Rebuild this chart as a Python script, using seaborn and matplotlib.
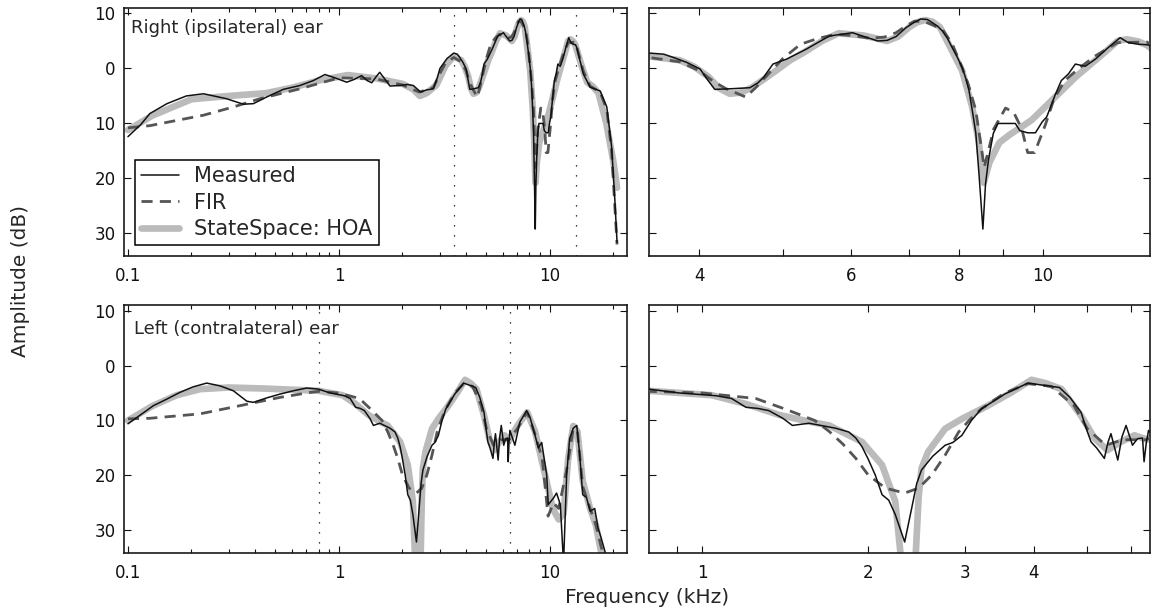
import matplotlib
matplotlib.use("Agg")
import matplotlib.pyplot as plt
import seaborn as sns
from matplotlib.ticker import FixedLocator, FixedFormatter, NullFormatter, LogLocator

sns.set_style("ticks")
plt.rcParams['font.family'] = ['DejaVu Sans']

# ---- right (ipsilateral) ear, frequency in kHz, amplitude in dB
right_meas_f = [0.10, 0.115, 0.127, 0.153, 0.189, 0.228, 0.293, 0.352, 0.393, 0.454, 0.545, 0.653,
                0.756, 0.858, 0.957, 1.088, 1.18, 1.28, 1.36, 1.43, 1.50, 1.56, 1.64, 1.745,
                1.945, 2.10, 2.25, 2.44, 2.60, 2.80, 2.92, 3.01, 3.25, 3.50, 3.64, 3.75, 3.87,
                4.01, 4.08, 4.17, 4.34, 4.58, 4.68, 4.75, 4.87, 5.05, 5.32, 5.50, 5.66, 6.02,
                6.18, 6.44, 6.60, 6.76, 6.94, 7.08, 7.22, 7.35, 7.45, 7.55, 7.65, 7.75, 7.85,
                7.95, 8.06, 8.14, 8.21, 8.29, 8.36, 8.43, 8.52, 8.58, 8.65, 8.76, 8.87, 9.29,
                9.40, 9.60, 9.80, 9.98, 10.1, 10.33, 10.5, 10.7, 10.9, 11.19, 11.5, 11.9,
                12.28, 12.55, 12.9, 13.23, 13.4, 14.4, 15.5, 17.3, 18.6, 19.6, 20.3, 20.8]
right_meas_db = [-12.4, -10.2, -8.2, -6.4, -5.0, -4.6, -5.5, -6.5, -6.4, -5.2, -3.8, -3.1,
                 -2.2, -1.1, -1.7, -2.5, -2.0, -1.3, -2.2, -2.6, -1.5, -0.7, -1.8, -3.2,
                 -3.1, -2.9, -3.1, -4.3, -3.9, -3.7, -1.8, 0.0, 1.8, 2.8, 2.6, 1.9, 1.1,
                 -0.1, -1.8, -3.8, -3.7, -3.5, -2.6, -1.6, 0.8, 1.7, 3.5, 4.8, 5.9, 6.5,
                 5.9, 5.0, 5.1, 5.8, 7.4, 8.3, 9.0, 8.9, 8.3, 7.7, 6.8, 5.5, 3.8,
                 2.2, 0.2, -1.8, -4.0, -8.0, -11.7, -19.0, -29.2, -21.0, -16.5, -11.8, -10.0, -10.0,
                 -11.3, -11.7, -11.7, -9.7, -8.8, -4.8, -2.2, -1.0, 0.8, 0.4, 1.7, 3.8,
                 5.6, 4.7, 4.4, 4.3, 3.8, -1.0, -3.4, -4.1, -7.0, -14.2, -23.8, -31.6]

right_fir_f = [0.10, 0.127, 0.228, 0.316, 0.422, 0.653, 1.0, 1.5, 2.0, 2.4, 2.8, 3.0, 3.2, 3.5,
               3.8, 4.0, 4.15, 4.30, 4.53, 4.65, 4.83, 5.0, 5.24, 5.5, 5.76, 6.0, 6.3, 6.55,
               6.76, 6.95, 7.1, 7.3, 7.65, 7.85, 8.06, 8.2, 8.36, 8.55, 8.77, 9.05, 9.25, 9.45,
               9.6, 9.78, 10.06, 10.3, 10.6, 11.0, 11.5, 12.2, 13.2, 14.4, 15.5, 17.3, 18.6,
               19.6, 20.3, 20.8]
right_fir_db = [-10.8, -10.4, -8.5, -7.0, -5.5, -3.7, -1.7, -1.9, -3.0, -4.3, -3.5, -1.0, 1.0, 2.0,
                1.2, -0.4, -2.3, -3.7, -5.2, -3.5, -0.7, 1.8, 4.4, 5.5, 6.2, 6.0, 5.5, 5.7,
                6.5, 7.8, 8.6, 8.5, 7.1, 4.5, 0.2, -3.0, -7.6, -18.0, -11.0, -7.2, -8.0, -11.0,
                -15.3, -15.3, -10.3, -5.5, -2.2, 0.0, 2.3, 4.7, 4.8, -0.5, -3.2, -4.3, -7.5,
                -15.0, -25.0, -32.0]

right_ss_f = [0.10, 0.13, 0.15, 0.2, 0.3, 0.45, 0.6, 0.8, 1.1, 1.5, 2.0, 2.25, 2.42, 2.6, 2.9,
              3.2, 3.5, 3.8, 3.95, 4.1, 4.22, 4.34, 4.47, 4.6, 4.75, 4.9, 5.1, 5.3, 5.55, 5.8,
              6.2, 6.6, 6.8, 7.0, 7.15, 7.3, 7.45, 7.6, 7.79, 8.06, 8.28, 8.42, 8.54, 8.67,
              8.9, 9.14, 9.7, 10.33, 10.9, 11.5, 11.9, 12.2, 12.5, 12.9, 13.2, 14.0, 15.0,
              16.0, 17.0, 18.5, 20.0, 20.8]
right_ss_db = [-11.2, -8.6, -7.6, -5.6, -5.0, -4.5, -3.5, -2.2, -1.2, -1.8, -2.8, -3.8, -5.0, -4.5, -3.0,
               0.5, 2.2, 1.5, 0.3, -1.5, -3.6, -4.6, -4.4, -3.5, -2.0, -0.5, 1.5, 3.0, 5.0, 6.4,
               6.0, 5.0, 5.8, 7.5, 8.4, 8.8, 8.5, 7.5, 4.2, -0.4, -7.0, -13.0, -20.8, -17.1,
               -13.5, -12.1, -9.4, -5.2, -1.6, 1.5, 3.5, 5.0, 5.3, 4.9, 4.2, 1.0, -2.5,
               -3.3, -4.5, -10.0, -17.0, -21.7]

# ---- left (contralateral) ear
left_meas_f = [0.10, 0.132, 0.153, 0.176, 0.203, 0.236, 0.273, 0.316, 0.366, 0.393, 0.454, 0.525,
               0.607, 0.703, 0.80, 0.909, 1.06, 1.13, 1.20, 1.26, 1.32, 1.40, 1.457, 1.562,
               1.745, 1.845, 1.90, 1.95, 2.00, 2.06, 2.12, 2.18, 2.24, 2.33, 2.40, 2.45, 2.50,
               2.62, 2.76, 2.85, 2.96, 3.08, 3.21, 3.54, 3.90, 4.24, 4.45, 4.65, 4.87, 5.00,
               5.08, 5.2, 5.37, 5.45, 5.52, 5.60, 5.68, 5.78, 5.88, 6.04, 6.17, 6.30, 6.34,
               6.40, 6.46, 6.82, 7.2, 7.75, 8.04, 8.5, 8.81, 9.14, 9.65, 9.82, 10.4, 10.75,
               11.2, 11.6, 12.0, 12.4, 12.9, 13.4, 13.8, 14.3, 14.9, 15.5, 16.3, 16.9, 17.5,
               18.6]
left_meas_db = [-10.6, -7.3, -6.1, -4.9, -3.9, -3.2, -3.7, -4.6, -6.5, -6.7, -5.9, -5.2,
                -4.6, -4.1, -4.3, -5.0, -5.5, -6.0, -7.6, -7.8, -8.2, -9.6, -10.9, -10.5,
                -11.4, -12.1, -13.2, -14.8, -17.0, -19.9, -23.5, -24.5, -27.1, -32.1, -25.9, -21.5, -19.0,
                -16.5, -14.5, -14.0, -12.7, -10.0, -7.9, -5.2, -3.2, -3.7, -4.0, -5.8, -8.5, -12.0,
                -13.9, -15.0, -16.9, -14.0, -12.4, -14.8, -17.2, -13.0, -10.9, -14.5, -13.3, -13.2, -17.5,
                -14.0, -11.8, -14.5, -10.3, -8.2, -9.4, -12.7, -15.0, -14.0, -19.9, -25.3, -24.1, -23.2,
                -25.3, -36.0, -19.9, -13.3, -11.4, -10.9, -15.7, -23.5, -24.0, -26.5, -26.0, -29.5, -31.4,
                -35.0]

left_fir_f = [0.10, 0.127, 0.219, 0.34, 0.525, 0.73, 0.8, 1.0, 1.25, 1.42, 1.6, 1.70, 1.8, 1.9,
              2.0, 2.15, 2.33, 2.47, 2.61, 2.76, 2.92, 3.05, 3.21, 3.54, 3.9, 4.3, 4.73, 5.0,
              5.4, 5.8, 6.4, 7.0, 7.8, 8.5, 9.2, 9.8, 10.4, 11.0, 12.0, 12.9, 13.5, 14.3,
              15.5, 16.5, 17.5, 18.5]
left_fir_db = [-9.7, -9.6, -8.8, -7.3, -5.8, -4.9, -4.7, -5.0, -6.0, -8.0, -10.0, -12.0, -14.3, -16.9,
               -19.9, -22.3, -23.2, -22.3, -19.9, -16.3, -12.1, -10.0, -7.9, -5.0, -3.3, -3.8, -7.3, -11.5,
               -14.5, -13.5, -13.5, -11.5, -8.5, -12.5, -17.0, -27.4, -25.0, -26.0, -19.0, -11.5, -12.0, -22.0,
               -26.0, -29.0, -33.0, -36.0]

left_ss_f = [0.10, 0.13, 0.17, 0.22, 0.3, 0.45, 0.6, 0.8, 1.04, 1.2, 1.38, 1.58, 1.70, 1.95,
             2.12, 2.24, 2.31, 2.43, 2.47, 2.50, 2.57, 2.76, 2.96, 3.30, 3.64, 3.96, 4.2, 4.49,
             4.87, 5.16, 5.44, 5.75, 6.09, 6.43, 7.0, 7.8, 8.5, 9.5, 10.3, 11.0, 11.6, 12.2,
             12.9, 13.5, 14.3, 15.5, 16.5, 17.5]
left_ss_db = [-10.0, -7.4, -5.4, -4.3, -4.0, -4.2, -4.4, -4.6, -5.4, -7.0, -9.0, -10.3, -10.9, -13.9,
              -18.1, -24.7, -38.0, -38.0, -24.0, -18.7, -15.7, -11.5, -9.7, -7.3, -4.9, -2.6, -3.2, -4.3,
              -9.1, -13.3, -15.4, -13.9, -12.7, -13.5, -11.0, -8.5, -12.0, -20.0, -26.0, -28.0, -27.0, -17.0,
              -11.0, -12.0, -21.0, -26.0, -29.0, -34.0]

# zoom windows (kHz) marked by dotted lines in the overview panels
right_zoom = [3.5, 13.3]
left_zoom = [0.8, 6.5]

ytick_vals = [-30, -20, -10, 0, 10]
ytick_text = ['30', '20', '10', '0', '10']

BLACK = '#111111'
DARK = '#555555'
LIGHT = '#bbbbbb'


def draw_curves(ax, meas, fir, ss, label=False):
    sns.lineplot(x=ss[0], y=ss[1], ax=ax, color=LIGHT, lw=4.8, sort=False,
                 label='StateSpace: HOA' if label else None, zorder=2)
    sns.lineplot(x=fir[0], y=fir[1], ax=ax, color=DARK, lw=2.0, sort=False,
                 linestyle=(0, (4, 2.6)), label='FIR' if label else None, zorder=3)
    sns.lineplot(x=meas[0], y=meas[1], ax=ax, color=BLACK, lw=1.1, sort=False,
                 label='Measured' if label else None, zorder=4)
    ax.set_xscale('log')
    ax.set_ylim(-34.1, 11)
    ax.yaxis.set_major_locator(FixedLocator(ytick_vals))
    ax.set_xlabel('')
    ax.set_ylabel('')
    ax.tick_params(which='both', direction='in', top=True, right=True, colors='#111111',
                   labelsize=12, width=0.8)
    ax.tick_params(which='major', length=5)
    ax.tick_params(axis='x', which='major', pad=8)
    ax.tick_params(axis='y', which='major', pad=6)
    ax.tick_params(which='minor', length=3)
    for s in ax.spines.values():
        s.set_linewidth(1.2)
        s.set_color('#1a1a1a')


fig = plt.figure(figsize=(11.55, 6.13), dpi=100)
ax_rl = fig.add_axes([0.1074, 0.5824, 0.4355, 0.4046])
ax_rz = fig.add_axes([0.5619, 0.5824, 0.4338, 0.4046])
ax_ll = fig.add_axes([0.1074, 0.0979, 0.4355, 0.4045])
ax_lz = fig.add_axes([0.5619, 0.0979, 0.4338, 0.4045])

right = ((right_meas_f, right_meas_db), (right_fir_f, right_fir_db), (right_ss_f, right_ss_db))
left = ((left_meas_f, left_meas_db), (left_fir_f, left_fir_db), (left_ss_f, left_ss_db))

draw_curves(ax_rl, *right, label=True)
draw_curves(ax_rz, *right)
draw_curves(ax_ll, *left)
draw_curves(ax_lz, *left)

for ax, zoom in ((ax_rl, right_zoom), (ax_ll, left_zoom)):
    ax.set_xlim(0.0958, 23.2)
    ax.xaxis.set_major_locator(FixedLocator([0.1, 1, 10]))
    ax.xaxis.set_major_formatter(FixedFormatter(['0.1', '1', '10']))
    ax.xaxis.set_minor_locator(LogLocator(base=10, subs=range(2, 10)))
    ax.xaxis.set_minor_formatter(NullFormatter())
    ax.yaxis.set_major_formatter(FixedFormatter(ytick_text))
    for z in zoom:
        ax.axvline(z, color='black', lw=0.9, linestyle=(0, (1, 7)), zorder=1)

ax_rz.set_xlim(right_zoom)
ax_rz.xaxis.set_major_locator(FixedLocator([4, 6, 8, 10]))
ax_rz.xaxis.set_major_formatter(FixedFormatter(['4', '6', '8', '10']))
ax_rz.xaxis.set_minor_locator(FixedLocator([5, 7, 9]))
ax_rz.xaxis.set_minor_formatter(NullFormatter())

ax_lz.set_xlim(left_zoom)
ax_lz.xaxis.set_major_locator(FixedLocator([1, 2, 3, 4]))
ax_lz.xaxis.set_major_formatter(FixedFormatter(['1', '2', '3', '4']))
ax_lz.xaxis.set_minor_locator(FixedLocator([0.9, 5, 6]))
ax_lz.xaxis.set_minor_formatter(NullFormatter())

for ax in (ax_rz, ax_lz):
    ax.yaxis.set_major_formatter(NullFormatter())
    ax.tick_params(which='minor', length=5)

ax_rl.text(0.014, 0.956, 'Right (ipsilateral) ear', transform=ax_rl.transAxes,
           ha='left', va='top', fontsize=13, zorder=6,
           bbox=dict(facecolor='white', edgecolor='none', pad=0.5))
ax_ll.text(0.019, 0.94, 'Left (contralateral) ear', transform=ax_ll.transAxes,
           ha='left', va='top', fontsize=13, zorder=6,
           bbox=dict(facecolor='white', edgecolor='none', pad=0.5))

handles, labels = ax_rl.get_legend_handles_labels()
order = [labels.index(n) for n in ('Measured', 'FIR', 'StateSpace: HOA')]
leg = ax_rl.legend([handles[i] for i in order], [labels[i] for i in order],
                   loc='lower left', bbox_to_anchor=(0.022, 0.044), fontsize=15,
                   frameon=True, fancybox=False, framealpha=1, edgecolor='black',
                   handlelength=1.8, handletextpad=0.75, borderpad=0.3, labelspacing=0.3,
                   borderaxespad=0)
leg.get_frame().set_linewidth(1.1)

fig.text(0.018, 0.541, 'Amplitude (dB)', rotation=90, ha='center', va='center', fontsize=14.5)
fig.text(0.560, 0.0245, 'Frequency (kHz)', ha='center', va='center', fontsize=14.5)

fig.savefig('out.png', dpi=100)
